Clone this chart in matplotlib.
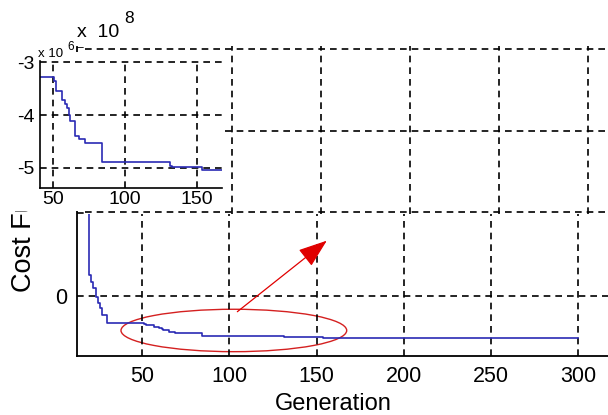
import numpy as np
import matplotlib.pyplot as plt
from matplotlib.patches import Ellipse, Rectangle

plt.rcParams['font.family'] = ['Liberation Sans', 'DejaVu Sans']
plt.rcParams['axes.unicode_minus'] = False

# best cost found so far (step points), cost in units of 1e7
generation = [19.5, 19.5, 20.6, 21.9, 23.3, 24.4, 25.8, 27.1, 29.6,
              50.9, 52.3, 56.5, 58.6, 59.7, 61.6, 62.0, 65.5, 68.5, 72.4,
              84.0, 131.5, 133.0, 153.5, 300]
cost_e7 = [20.0, 2.49, 1.69, 0.89, -0.12, -0.92, -1.52, -2.33, -3.28,
           -3.36, -3.54, -3.72, -3.80, -3.87, -4.00, -4.11, -4.40, -4.45, -4.53,
           -4.90, -4.96, -4.99, -5.04, -5.04]

main_xticks = [50, 100, 150, 200, 250, 300]
main_yticks = [0, 1, 2, 3]
main_ylabels = ['0', '', '', '']   # 1..3 sit under the inset
inset_xticks = [50, 100, 150]
inset_yticks = [-5, -4, -3]

cost = np.array(cost_e7) * 1e7

W, H = 608, 415
def box(l, t, r, b):
    # pixel box -> figure fraction
    return [l / W, 1 - b / H, (r - l) / W, (b - t) / H]

grid_kw = dict(color='black', linestyle=(0, (4, 3)), linewidth=1.2)
blue = '#2a2ab4'

fig = plt.figure(figsize=(6.08, 4.15), dpi=100)

# main axes
ax = fig.add_axes(box(76.5, 46.7, 608, 355.7))
ax.set_zorder(0)
ax.plot(generation, cost / 1e8, drawstyle='steps-post', color=blue, lw=1.2)
ax.set_xlim(12.3, 317)
ax.set_ylim(-0.723, 3)
ax.set_xticks(main_xticks)
ax.set_yticks(main_yticks)
ax.set_yticklabels(main_ylabels)
ax.grid(True, **grid_kw)
ax.tick_params(length=0, labelsize=15.5)
ax.tick_params(axis='x', pad=7.4)
ax.tick_params(axis='y', pad=7)
for s in ['top', 'right']:
    ax.spines[s].set_visible(False)
for s in ['left', 'bottom']:
    ax.spines[s].set_linewidth(1.3)
ax.set_ylabel('Cost Function', fontsize=19.5, ha='left')
ax.yaxis.set_label_coords(-0.074, 0.206)

ax.add_patch(Ellipse((102.5, -0.419), 129.4, 0.511, fill=False,
                     edgecolor='#d42020', lw=1.0))
ax.annotate('', xy=(155.8, 0.663), xytext=(104.5, -0.193),
            arrowprops=dict(arrowstyle='-|>,head_length=1.8,head_width=0.65',
                            color='#e00000', lw=0.9, shrinkA=0, shrinkB=0))

fig.text(77 / W, 1 - 37 / H, 'x  10', fontsize=14, va='baseline')
fig.text(124 / W, 1 - 23 / H, '8', fontsize=12.5, va='baseline')

# pasted grid panel over the top of the main plot
pan = fig.add_axes(box(85, 46, 608, 214))
pan.set_zorder(1)
pan.set_xlim(17.6, 311.4)
pan.set_ylim(0.979, 3.04)
pan.set_xticks([100, 150, 200, 250, 300])
pan.set_yticks([1, 2, 3])
pan.grid(True, **grid_kw)
pan.tick_params(length=0, labelbottom=False, labelleft=False)
for s in pan.spines.values():
    s.set_visible(False)

# white background of the zoomed inset
fig.add_artist(Rectangle((0, 1 - 211 / H), 222 / W, (211 - 52) / H,
                         transform=fig.transFigure, facecolor='white',
                         edgecolor='none', zorder=2))

ins = fig.add_axes(box(40, 61.5, 222, 188.3))
ins.set_zorder(3)
ins.plot(generation, cost / 1e7, drawstyle='steps-post', color=blue, lw=1.2)
ins.set_xlim(41.2, 167.6)
ins.set_ylim(-5.39, -2.985)
ins.set_xticks(inset_xticks)
ins.set_yticks(inset_yticks)
ins.grid(True, **grid_kw)
ins.tick_params(length=0, labelsize=14)
ins.tick_params(axis='x', pad=2.0)
ins.tick_params(axis='y', pad=4.0)
for s in ['top', 'right']:
    ins.spines[s].set_visible(False)
for s in ['left', 'bottom']:
    ins.spines[s].set_linewidth(1.2)

fig.text(37.7 / W, 1 - 57 / H, 'x 10', fontsize=9.5, va='baseline', zorder=4)
fig.text(67 / W, 1 - 50 / H, '6', fontsize=8.5, va='baseline', zorder=4)

fig.text(333.5 / W, 1 - 409.5 / H, 'Generation', ha='center', va='baseline',
         fontsize=17)

fig.savefig('out.png', dpi=100)
